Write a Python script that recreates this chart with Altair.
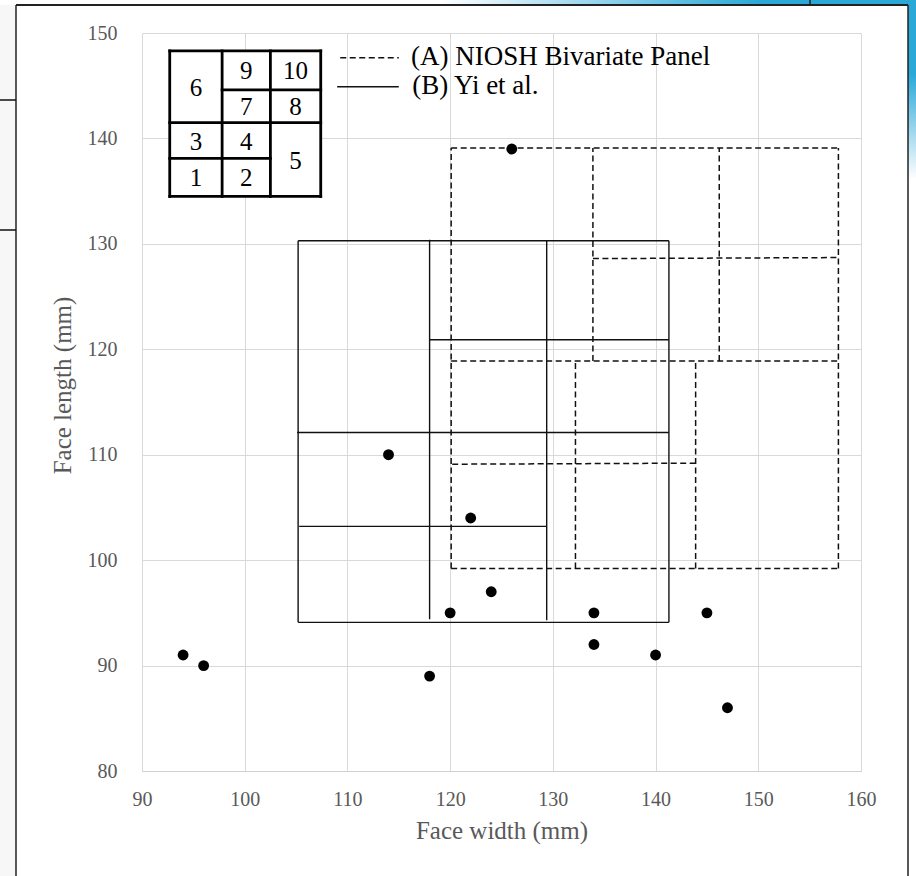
import altair as alt
import pandas as pd

# ---------------- data ----------------
# Subjects (face width, face length)
pt_x = [94, 96, 114, 118, 120, 122, 124, 126, 134, 134, 140, 145, 147]
pt_y = [91, 90, 110, 89, 95, 104, 97, 139, 95, 92, 91, 95, 86]

# (B) Yi et al. panel cell boundaries, as segments
yi_x1 = [105.2, 105.2, 105.2, 141.3, 118.0, 129.4, 118.0, 105.1, 105.3]
yi_y1 = [94.1, 130.3, 94.1, 94.1, 94.4, 94.3, 120.9, 112.1, 103.2]
yi_x2 = [141.3, 141.3, 105.2, 141.3, 118.0, 129.4, 141.3, 141.3, 129.4]
yi_y2 = [94.1, 130.3, 130.3, 130.3, 130.4, 130.3, 120.9, 112.1, 103.2]

# (A) NIOSH bivariate panel cell boundaries, as segments
ni_x1 = [120.1, 120.1, 120.1, 157.8, 133.9, 146.2, 133.9, 120.1, 132.2, 143.9, 120.2]
ni_y1 = [99.2, 139.1, 99.2, 99.2, 118.9, 118.9, 128.6, 118.9, 99.2, 99.2, 109.1]
ni_x2 = [157.8, 157.8, 120.1, 157.8, 133.9, 146.2, 157.8, 157.8, 132.2, 143.9, 144.0]
ni_y2 = [99.2, 139.1, 139.1, 139.1, 139.1, 139.1, 128.7, 118.9, 118.9, 118.9, 109.2]

# Inset schematic of the 10-cell layout
in_x1 = [92.7, 92.7, 92.7, 107.4, 97.8, 102.5, 92.7, 97.8, 92.7]
in_y1 = [134.5, 148.3, 134.5, 134.5, 134.5, 134.5, 141.5, 144.6, 138.1]
in_x2 = [107.4, 107.4, 92.7, 107.4, 97.8, 102.5, 107.4, 107.4, 102.5]
in_y2 = [134.5, 148.3, 148.3, 148.3, 148.3, 148.3, 141.5, 144.6, 138.1]
cell_lab = ["6", "9", "10", "7", "8", "3", "4", "5", "1", "2"]
cell_x = [95.25, 100.15, 104.95, 100.15, 104.95, 95.25, 100.15, 104.95, 95.25, 100.15]
cell_y = [144.9, 146.45, 146.45, 143.05, 143.05, 139.8, 139.8, 138.0, 136.3, 136.3]

# Legend
leg_lab = ["(A) NIOSH Bivariate Panel", "(B) Yi et al."]
leg_x1 = [109.3, 109.0]
leg_x2 = [115.0, 115.0]
leg_y = [147.65, 144.9]
leg_tx = [116.2, 116.3]

FONT = "Liberation Serif"
GRAY = "#595959"

xscale = alt.Scale(domain=[90, 160], nice=False, zero=False)
yscale = alt.Scale(domain=[80, 150], nice=False, zero=False)

xaxis = alt.Axis(values=list(range(90, 161, 10)), grid=True, gridColor="#d9d9d9",
                 domainColor="#d0d0d0", ticks=False, labelFont=FONT, labelFontSize=20,
                 labelColor=GRAY, labelPadding=18, labelFlush=False, labelOverlap=False,
                 title="Face width (mm)", titleFont=FONT, titleFontSize=25,
                 titleFontWeight="normal", titleColor=GRAY, titleBaseline="alphabetic",
                 titleY=67)
yaxis = alt.Axis(values=list(range(80, 151, 10)), grid=True, gridColor="#d9d9d9",
                 domain=False, ticks=False, labelFont=FONT, labelFontSize=20,
                 labelColor=GRAY, labelPadding=25, labelFlush=False, labelOverlap=False,
                 title="Face length (mm)", titleFont=FONT, titleFontSize=25,
                 titleFontWeight="normal", titleColor=GRAY, titleBaseline="alphabetic",
                 titleAngle=270, titleX=-72, titleY=352, titleAlign="center")


def X(f):
    return alt.X(f, type="quantitative", scale=xscale, axis=xaxis)


def Y(f):
    return alt.Y(f, type="quantitative", scale=yscale, axis=yaxis)


seg_yi = pd.DataFrame({"x1": yi_x1, "y1": yi_y1, "x2": yi_x2, "y2": yi_y2})
seg_ni = pd.DataFrame({"x1": ni_x1, "y1": ni_y1, "x2": ni_x2, "y2": ni_y2})
seg_in = pd.DataFrame({"x1": in_x1, "y1": in_y1, "x2": in_x2, "y2": in_y2})
pts = pd.DataFrame({"w": pt_x, "l": pt_y})
cells = pd.DataFrame({"lab": cell_lab, "x": cell_x, "y": cell_y})
leg = pd.DataFrame({"lab": leg_lab, "x1": leg_x1, "x2": leg_x2, "y": leg_y, "tx": leg_tx})

yi = alt.Chart(seg_yi).mark_rule(color="#111111", strokeWidth=1.4).encode(
    x=X("x1"), y=Y("y1"), x2="x2", y2="y2")
ni = alt.Chart(seg_ni).mark_rule(color="#111111", strokeWidth=1.5, strokeDash=[6, 3.5]).encode(
    x=X("x1"), y=Y("y1"), x2="x2", y2="y2")
dots = alt.Chart(pts).mark_circle(color="#000000", opacity=1, size=118).encode(
    x=X("w"), y=Y("l"))

inset_bg = alt.Chart(pd.DataFrame({"a": [in_x1[0]], "b": [in_x2[0]],
                                   "c": [in_y1[0]], "d": [in_y1[1]]})).mark_rect(
    color="white").encode(x=X("a"), x2="b", y=Y("c"), y2="d")
inset = alt.Chart(seg_in).mark_rule(color="#000000", strokeWidth=2.8, strokeCap="square").encode(
    x=X("x1"), y=Y("y1"), x2="x2", y2="y2")
inset_txt = alt.Chart(cells).mark_text(font=FONT, fontSize=25, color="#000000",
                                        baseline="middle", align="center", dy=1).encode(
    x=X("x"), y=Y("y"), text="lab")

leg_a = alt.Chart(leg.iloc[[0]]).mark_rule(color="#111111", strokeWidth=1.5,
                                           strokeDash=[6, 3.5]).encode(
    x=X("x1"), x2="x2", y=Y("y"))
leg_b = alt.Chart(leg.iloc[[1]]).mark_rule(color="#111111", strokeWidth=1.5).encode(
    x=X("x1"), x2="x2", y=Y("y"))
leg_t = alt.Chart(leg).mark_text(font=FONT, fontSize=27, color="#000000",
                                  align="left", baseline="middle", dy=-1).encode(
    x=X("tx"), y=Y("y"), text="lab")

# ---------------- page decoration (frame of the screenshot) ----------------
one = alt.Data(values=[{}])
blue_grad = alt.Gradient(gradient="linear", x1=0, x2=1, y1=0, y2=0,
                         stops=[alt.GradientStop(offset=0, color="#ffffff"),
                                alt.GradientStop(offset=0.48, color="#ffffff"),
                                alt.GradientStop(offset=0.83, color="#2aa8d8"),
                                alt.GradientStop(offset=1, color="#2aa8d8")])
right_grad = alt.Gradient(gradient="linear", x1=0, x2=0, y1=0, y2=1,
                          stops=[alt.GradientStop(offset=0, color="#2aa8d8"),
                                 alt.GradientStop(offset=0.08, color="#2aa8d8"),
                                 alt.GradientStop(offset=0.2, color="#ffffff"),
                                 alt.GradientStop(offset=1, color="#ffffff")])
left_strip = alt.Chart(one).mark_rect(color="#f7f7f7").encode(
    x=alt.value(-142), x2=alt.value(-126), y=alt.value(-33), y2=alt.value(843))
top_strip = alt.Chart(one).mark_rect(color=blue_grad).encode(
    x=alt.value(-142), x2=alt.value(774), y=alt.value(-33), y2=alt.value(-28))
right_strip = alt.Chart(one).mark_rect(color=right_grad).encode(
    x=alt.value(766), x2=alt.value(774), y=alt.value(-28), y2=alt.value(843))
frame_l = alt.Chart(one).mark_rule(color="#222222", strokeWidth=1.5).encode(
    x=alt.value(-126), y=alt.value(-28), y2=alt.value(843))
frame_r = alt.Chart(one).mark_rule(color="#222222", strokeWidth=1.5).encode(
    x=alt.value(766), y=alt.value(-28), y2=alt.value(843))
frame_t = alt.Chart(one).mark_rule(color="#222222", strokeWidth=2).encode(
    x=alt.value(-126), x2=alt.value(766), y=alt.value(-28))
tick_t = alt.Chart(one).mark_rule(color="#222222", strokeWidth=1.5).encode(
    x=alt.value(668), y=alt.value(-33), y2=alt.value(-28))
left_l1 = alt.Chart(one).mark_rule(color="#111111", strokeWidth=1.5).encode(
    x=alt.value(-142), x2=alt.value(-126), y=alt.value(67))
left_l2 = alt.Chart(one).mark_rule(color="#111111", strokeWidth=1.5).encode(
    x=alt.value(-142), x2=alt.value(-126), y=alt.value(197))

chart = alt.layer(
    left_strip, top_strip, right_strip, frame_l, frame_r, frame_t, tick_t, left_l1, left_l2,
    yi, ni, dots, inset_bg, inset, inset_txt, leg_a, leg_b, leg_t
).properties(
    width=719, height=738,
    padding={"left": 142, "top": 33, "right": 55, "bottom": 105},
    autosize=alt.AutoSizeParams(type="none"),
    background="white",
).configure_view(stroke=None)

chart.save("out.html", embed_options={"renderer": "svg", "actions": False})
